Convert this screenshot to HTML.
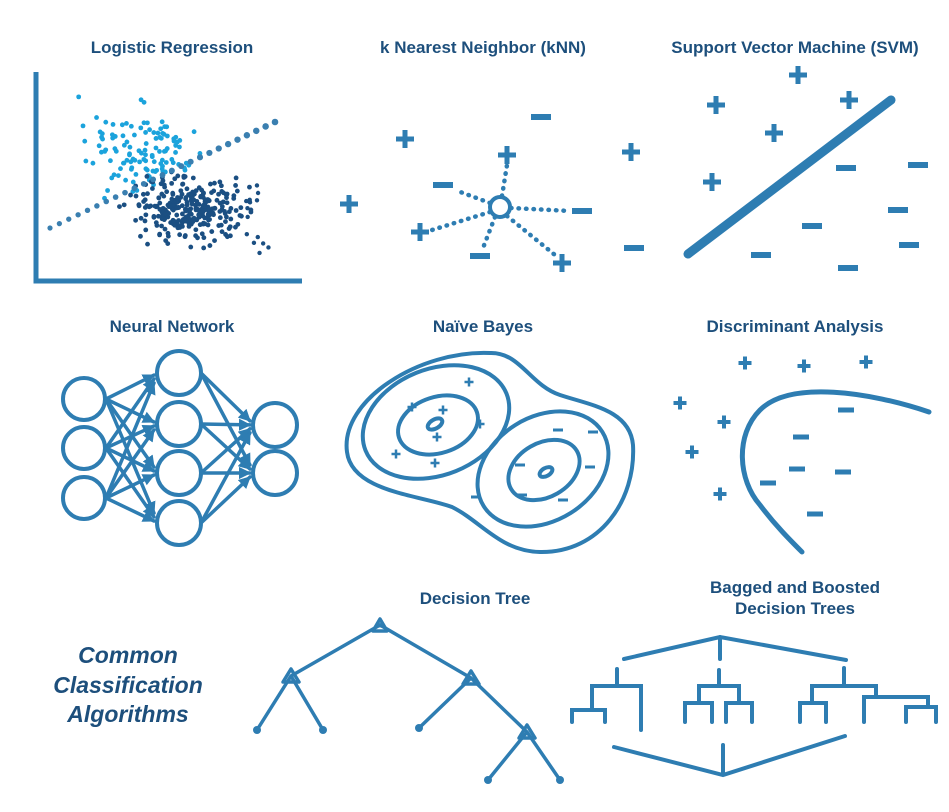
<!DOCTYPE html>
<html><head><meta charset="utf-8">
<style>
html,body{margin:0;padding:0;background:#fff;}
svg{display:block;}
text{font-family:"Liberation Sans",sans-serif;font-weight:bold;fill:#1d4f7c;}
</style></head>
<body>
<svg id="s" width="949" height="812" viewBox="0 0 949 812" xmlns="http://www.w3.org/2000/svg">
<defs>
<marker id="ar" viewBox="0 0 10 10" refX="9" refY="5" markerWidth="3.5" markerHeight="3.5" orient="auto"><path d="M0,0 L10,5 L0,10 z" fill="#2e7db2"/></marker>
</defs>
<g font-size="17" text-anchor="middle">
<text x="172" y="53">Logistic Regression</text>
<text x="483" y="53">k Nearest Neighbor (kNN)</text>
<text x="795" y="53">Support Vector Machine (SVM)</text>
<text x="172" y="332">Neural Network</text>
<text x="483" y="332">Naïve Bayes</text>
<text x="795" y="332">Discriminant Analysis</text>
<text x="475" y="604">Decision Tree</text>
<text x="795" y="593">Bagged and Boosted</text>
<text x="795" y="614">Decision Trees</text>
</g>
<g font-size="23" font-style="italic" text-anchor="middle">
<text x="128" y="663">Common</text>
<text x="128" y="693">Classification</text>
<text x="128" y="722">Algorithms</text>
</g>
<g id="dots"></g>
<g stroke="#2e7db2" fill="none" stroke-linecap="round">
<path d="M36,72 V281 H302" stroke-width="5" stroke-linecap="butt"/>
<circle cx="500" cy="207" r="10" stroke-width="4"/>
<g stroke-width="4.5" stroke-dasharray="0.5 7">
<line x1="502" y1="196" x2="507" y2="165"/>
<line x1="490" y1="203" x2="455" y2="190"/>
<line x1="490" y1="212" x2="432" y2="230"/>
<line x1="495" y1="217" x2="483" y2="248"/>
<line x1="507" y1="216" x2="555" y2="255"/>
<line x1="511" y1="208" x2="570" y2="211"/>
</g>
<line x1="688" y1="254" x2="891" y2="100" stroke-width="9"/>
<g stroke-width="4">
<path d="M490,353 C420,350 340,400 347,452 C352,492 420,495 452,507 C482,522 500,551 540,552 C600,553 636,500 633,445 C630,410 590,405 560,395 C530,385 520,352 490,353 Z"/>
<ellipse cx="436" cy="422" rx="76" ry="53" transform="rotate(-22 436 422)"/>
<ellipse cx="438" cy="425" rx="41" ry="28" transform="rotate(-18 438 425)"/>
<ellipse cx="435" cy="424" rx="8" ry="4.5" transform="rotate(-30 435 424)"/>
<ellipse cx="543" cy="469" rx="70" ry="52" transform="rotate(-32 543 469)"/>
<ellipse cx="544" cy="470" rx="38" ry="27" transform="rotate(-30 544 470)"/>
<ellipse cx="546" cy="472" rx="7" ry="4" transform="rotate(-30 546 472)"/>
</g>
<path d="M929,412 C870,392 790,380 760,410 C735,435 738,480 760,505 C775,525 790,540 802,552" stroke-width="5"/>
<g stroke-width="4">
<circle cx="84" cy="399" r="21"/><circle cx="84" cy="448" r="21"/><circle cx="84" cy="498" r="21"/>
<circle cx="179" cy="373" r="22"/><circle cx="179" cy="424" r="22"/><circle cx="179" cy="473" r="22"/><circle cx="179" cy="523" r="22"/>
<circle cx="275" cy="425" r="22"/><circle cx="275" cy="473" r="22"/>
</g>
<g id="nn" stroke-width="3.5"></g>
<g stroke-width="3.5">
<path d="M380,625 L291,676 M380,625 L471,678 M291,676 L257,730 M291,676 L323,730 M471,678 L419,728 M471,678 L527,732 M527,732 L488,780 M527,732 L560,780"/>
<path d="M380,619 L387,631 L373,631 Z M291,669 L299,682 L283,682 Z M471,671 L479,684 L463,684 Z M527,725 L535,738 L519,738 Z" stroke-linejoin="round"/>
</g>
<g fill="#2e7db2" stroke="none">
<circle cx="257" cy="730" r="4"/><circle cx="323" cy="730" r="4"/><circle cx="419" cy="728" r="4"/><circle cx="488" cy="780" r="4"/><circle cx="560" cy="780" r="4"/>
</g>
<g stroke-width="4" stroke-linejoin="miter">
<path d="M624,659 L720,637 L846,660 M720,637 V659"/>
<path d="M617,669 V686 M592,710 V686 H641 V730 M572,722 V710 H605 V722"/>
<path d="M719,670 V686 M699,703 V686 H739 V703 M685,722 V703 H712 V722 M726,722 V703 H752 V722"/>
<path d="M844,668 V686 M812,703 V686 H876 V697 M800,722 V703 H826 V722 M864,722 V697 H928 V707 M906,722 V707 H936 V722"/>
<path d="M614,747 L723,775 L845,736 M723,745 V775"/>
</g>
</g>
<g id="signs"></g>
</svg>
<script>
var NS="http://www.w3.org/2000/svg";
function el(p,t,a){var e=document.createElementNS(NS,t);for(var k in a)e.setAttribute(k,a[k]);p.appendChild(e);return e;}
var sg=document.getElementById("signs");
function plus(x,y,s,w){el(sg,"path",{d:"M"+(x-s)+","+y+"H"+(x+s)+"M"+x+","+(y-s)+"V"+(y+s),stroke:"#2e7db2","stroke-width":w,fill:"none"});}
function minus(x,y,s,w){el(sg,"path",{d:"M"+(x-s)+","+y+"H"+(x+s),stroke:"#2e7db2","stroke-width":w,fill:"none"});}
[[507,155],[420,232],[562,263],[405,139],[349,204],[631,152]].forEach(function(p){plus(p[0],p[1],9,5);});
[[443,185],[480,256],[582,211],[541,117],[634,248]].forEach(function(p){minus(p[0],p[1],10,6);});
[[716,105],[798,75],[849,100],[774,133],[712,182]].forEach(function(p){plus(p[0],p[1],9,5);});
[[846,168],[918,165],[898,210],[812,226],[909,245],[761,255],[848,268]].forEach(function(p){minus(p[0],p[1],10,6);});
[[469,382],[412,407],[443,410],[480,424],[437,437],[396,454],[435,463]].forEach(function(p){plus(p[0],p[1],4.5,2.5);});
[[558,430],[593,432],[520,465],[590,467],[476,497],[522,495],[563,500]].forEach(function(p){minus(p[0],p[1],5,3);});
[[745,363],[804,366],[866,362],[680,403],[724,422],[692,452],[720,494]].forEach(function(p){plus(p[0],p[1],6.5,4);});
[[846,410],[801,437],[797,469],[843,472],[768,483],[815,514]].forEach(function(p){minus(p[0],p[1],8,5);});
var nn=document.getElementById("nn");
var L=[399,448,498],M=[373,424,473,523],R=[425,473];
L.forEach(function(a){M.forEach(function(b){el(nn,"line",{x1:106,y1:a,x2:154,y2:b+(a-b)*0.08,stroke:"#2e7db2","marker-end":"url(#ar)"});});});
M.forEach(function(a){R.forEach(function(b){el(nn,"line",{x1:201,y1:a,x2:250,y2:b+(a-b)*0.08,stroke:"#2e7db2","marker-end":"url(#ar)"});});});
var dg=document.getElementById("dots");
var seed=7;function rnd(){seed=(seed*16807)%2147483647;return seed/2147483647;}
function gauss(){return (rnd()+rnd()+rnd()-1.5)*1.4;}
var n=0;
while(n<120){var x=145+gauss()*38,y=155+gauss()*32;if(x<48||y>(228-(x-50)*0.47)+6||y<95)continue;el(dg,"circle",{cx:x,cy:y,r:2.4,fill:"#1ba3dc"});n++;}
for(var i=0;i<280;i++){var x=188+gauss()*38,y=208+gauss()*22;if(y<(228-(x-50)*0.47)-8)continue;el(dg,"circle",{cx:x,cy:y,r:2.4,fill:"#1b4f82"});}
for(var i=0;i<14;i++){el(dg,"circle",{cx:245+rnd()*32,cy:180+rnd()*75,r:2.2,fill:"#1b4f82"});}
for(var i=0;i<=24;i++){var t=i/24;el(dg,"circle",{cx:50+t*225,cy:228-t*106,r:2.6+t*0.7,fill:"#3a7fb0"});}
</script>
</body></html>
